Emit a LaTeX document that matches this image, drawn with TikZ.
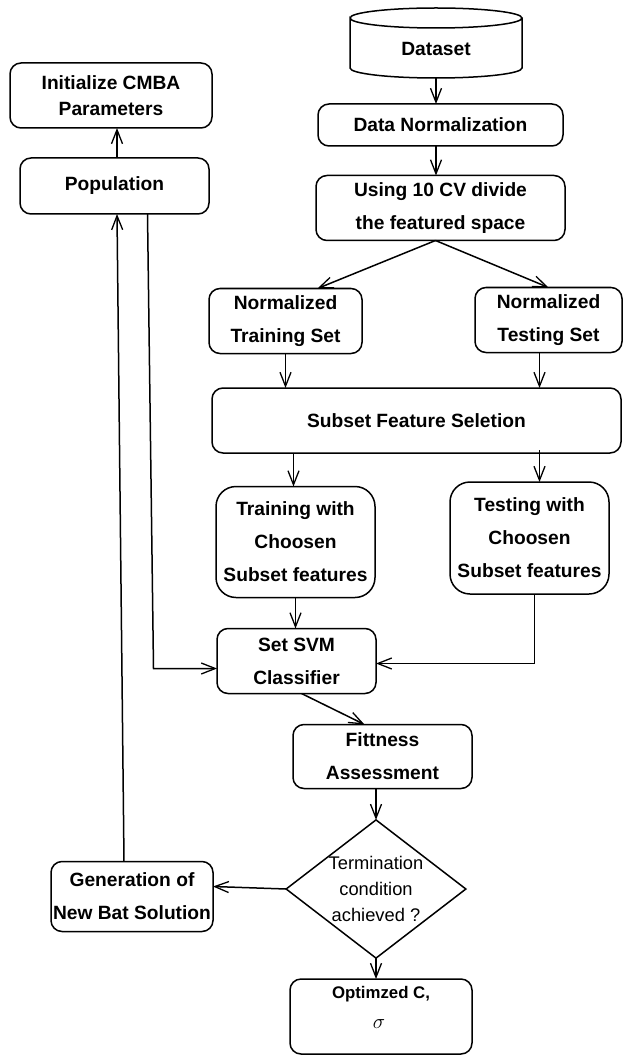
\documentclass[tikz,border=0pt]{standalone}
\usepackage{fontspec}
\setmainfont{Liberation Sans}
\usetikzlibrary{arrows.meta,calc,shapes.geometric}

\tikzset{
  x=1pt, y=-1pt,
  every node/.style={inner sep=0pt, outer sep=0pt},
  box/.style={draw, line width=1.5pt, rounded corners=11pt, align=center,
    font=\bfseries\fontsize{19.2}{33}\selectfont},
  tight/.style={font=\bfseries\fontsize{19.2}{26}\selectfont},
  decision/.style={draw, line width=1.5pt, diamond, align=center,
    font=\fontsize{18.3}{26}\selectfont},
  plain/.style={font=\bfseries\fontsize{19.2}{22}\selectfont},
  arr/.style={line width=1.5pt, -{Straight Barb[length=14pt,width=11pt,line width=1.3pt]}},
}

\newcommand{\boxat}[6]{%
  \node[box, minimum width=#4, minimum height=#5, #6] (#1) at (#2,#3)}

\begin{document}
\begin{tikzpicture}
\useasboundingbox (0,0) rectangle (624,1056);

% left column
\boxat{init}{111}{95.5}{202pt}{65pt}{tight} {Initialize CMBA\\Parameters};
\boxat{pop}{114.5}{186}{189pt}{56pt}{} {Population};

% dataset drum
\node[plain, minimum width=172pt, minimum height=70pt] (ds) at (436,43) {};
\node[plain] (dslabel) at (436,49) {Dataset};
\draw[line width=1.5pt]
  ($(ds.north west)+(0,10)$) arc[start angle=180, end angle=-180, x radius=86pt, y radius=10pt]
  -- ($(ds.south west)+(0,-10)$)
  arc[start angle=180, end angle=360, x radius=86pt, y radius=10pt]
  -- ($(ds.north east)+(0,10)$);

% right column
\boxat{dn}{440.5}{125}{245pt}{42pt}{} {Data Normalization};
\boxat{cv}{440.5}{208}{249pt}{65pt}{} {Using 10 CV divide\\ the featured space};
\boxat{ntr}{285.5}{321}{153pt}{65pt}{} {Normalized\\Training Set};
\boxat{nte}{548.5}{320}{147pt}{65pt}{} {Normalized\\Testing Set};
\boxat{sfs}{416.5}{420.5}{409pt}{65pt}{} {Subset Feature Seletion};
\boxat{trw}{295.5}{542}{159pt}{111pt}{rounded corners=20pt} {Training with\\Choosen\\Subset features};
\boxat{tew}{529.5}{538}{159pt}{112pt}{rounded corners=20pt} {Testing with\\Choosen\\Subset features};
\boxat{svm}{296.5}{661}{159pt}{65pt}{} {Set SVM\\Classifier};
\boxat{fit}{382.5}{756.5}{179pt}{64pt}{} {Fittness\\Assessment};
\node[decision, minimum width=175pt, minimum height=134pt, aspect=1.3] (dia) at (376,889)
  {Termination\\condition\\achieved ?};
\boxat{gen}{132}{896.5}{162pt}{70pt}{} {Generation of\\New Bat Solution};
\boxat{opt}{381}{1016.5}{182pt}{75pt}{} {};
\node[font=\bfseries\fontsize{16.8}{20}\selectfont] (optc) at ($(opt.north)+(0,15)$) {Optimzed C,};
\node[font=\fontsize{21}{24}\selectfont] (optsig) at ($(opt.north)+(-2,45)$) {$\sigma$};

% bend points of the population feed and loop
\coordinate (popout) at ($(pop.south)+(33,0)$);
\coordinate (popbend) at ($(popout |- svm.west)+(6,7.5)$);
\coordinate (popup) at ($(pop.north)+(2.5,0)$);

% main flow
\draw[arr] (ds.south) -- (ds.south |- dn.north);
\draw[arr] (dn.south -| ds.south) -- (ds.south |- cv.north);
\draw[arr] ($(cv.south)+(-5,0)$) -- ($(ntr.north)+(32,0)$);
\draw[arr] ($(cv.south)+(-5,0)$) -- (nte.north);
\draw[arr] (ntr.south) -- (ntr.south |- sfs.north);
\draw[arr] ($(nte.south)+(-9,0)$) -- ($(nte.south |- sfs.north)+(-9,0)$);
\draw[arr] ($(sfs.south -| trw.north)+(-2,0)$) -- ($(trw.north)+(-2,0)$);
\draw[arr] ($(sfs.south -| tew.north)+(10,-3)$) -- ($(tew.north)+(10,0)$);
\draw[arr] (trw.south) -- (trw.south |- svm.north);
\draw[arr] ($(tew.south)+(5,0)$) |- ($(svm.east)+(0,2.5)$);
\draw[arr] (popout) -- (popbend) -- (popbend -| svm.west);
\draw[arr] ($(svm.south)+(5,0)$) -- ($(fit.north)+(-18,0)$);
\draw[arr] (fit.south -| dia.north) -- (dia.north);
\draw[arr] (dia.south) -- (dia.south |- opt.north);

% loop back
\draw[arr] (dia.west) -- ($(gen.east)+(0,-10)$);
\draw[arr] ($(gen.north)+(-8,0)$) -- ($(pop.south)+(2.5,0)$);
\draw[arr] (popup) -- (popup |- init.south);
\end{tikzpicture}
\end{document}
